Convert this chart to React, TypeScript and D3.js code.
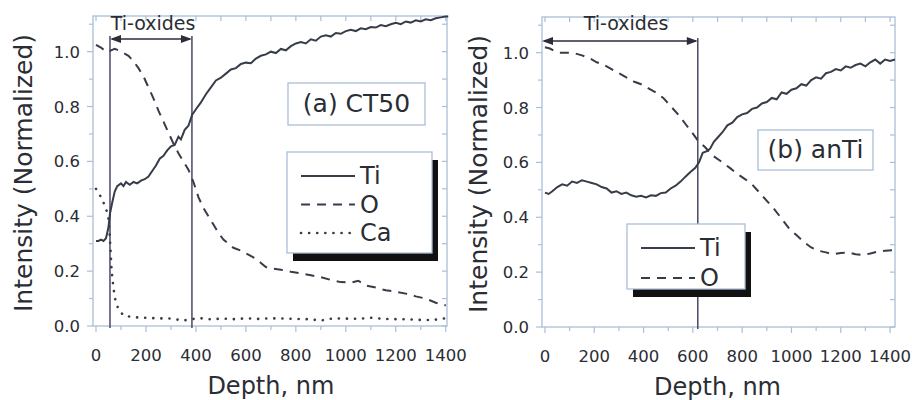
import React from 'react'
import * as d3 from 'd3'

// depth profiles (depth in nm, intensity normalized)
const tiDepthA = [0, 10, 20, 30, 40, 50, 56, 65, 75, 85, 100, 110, 120, 135, 150, 165, 180, 195, 210, 225, 240, 255, 270, 285, 300, 315, 330, 340, 355, 370, 385, 400, 420, 440, 460, 480, 500, 520, 540, 560, 580, 600, 620, 640, 660, 680, 700, 720, 740, 760, 780, 800, 820, 840, 860, 880, 900, 920, 940, 960, 980, 1000, 1020, 1040, 1060, 1080, 1100, 1120, 1140, 1160, 1180, 1200, 1220, 1240, 1260, 1280, 1300, 1320, 1340, 1360, 1380, 1400, 1410]
const tiValA = [0.31, 0.31, 0.315, 0.31, 0.32, 0.36, 0.41, 0.45, 0.49, 0.51, 0.52, 0.51, 0.525, 0.515, 0.525, 0.52, 0.53, 0.535, 0.545, 0.565, 0.585, 0.61, 0.62, 0.64, 0.655, 0.66, 0.69, 0.68, 0.715, 0.73, 0.77, 0.79, 0.815, 0.845, 0.87, 0.895, 0.905, 0.92, 0.935, 0.94, 0.955, 0.96, 0.958, 0.975, 0.985, 0.99, 1.0, 0.995, 1.01, 1.005, 1.02, 1.03, 1.035, 1.03, 1.045, 1.04, 1.055, 1.06, 1.055, 1.068, 1.065, 1.075, 1.08, 1.075, 1.085, 1.082, 1.09, 1.088, 1.097, 1.093, 1.1, 1.105, 1.1, 1.11, 1.106, 1.114, 1.11, 1.118, 1.115, 1.122, 1.125, 1.128, 1.128]

const oDepthA = [0, 20, 40, 50, 60, 75, 90, 110, 130, 150, 170, 190, 210, 230, 250, 270, 290, 310, 330, 350, 370, 390, 410, 430, 450, 470, 490, 510, 530, 550, 580, 610, 640, 660, 680, 700, 740, 780, 820, 860, 900, 940, 980, 1020, 1050, 1080, 1120, 1160, 1200, 1240, 1280, 1320, 1360, 1400]
const oValA = [1.025, 1.015, 1.0, 1.0, 1.005, 1.01, 1.005, 0.995, 0.985, 0.965, 0.94, 0.91, 0.87, 0.83, 0.785, 0.745, 0.705, 0.665, 0.63, 0.6, 0.57, 0.525, 0.47, 0.43, 0.4, 0.37, 0.34, 0.315, 0.3, 0.285, 0.275, 0.26, 0.245, 0.23, 0.215, 0.21, 0.205, 0.198, 0.192, 0.185, 0.178, 0.168, 0.16, 0.158, 0.165, 0.148, 0.14, 0.13, 0.125, 0.118, 0.108, 0.1, 0.085, 0.075]

const caDepthA = [0, 20, 40, 50, 55, 58, 62, 66, 70, 76, 88, 110, 150, 200, 250, 300, 350, 380, 420, 460, 500, 550, 600, 650, 700, 750, 800, 850, 900, 950, 1000, 1050, 1100, 1150, 1200, 1250, 1300, 1350, 1400]
const caValA = [0.5, 0.47, 0.43, 0.39, 0.33, 0.28, 0.21, 0.17, 0.14, 0.1, 0.065, 0.038, 0.032, 0.03, 0.028, 0.027, 0.02, 0.025, 0.028, 0.024, 0.027, 0.025, 0.028, 0.026, 0.028, 0.027, 0.026, 0.025, 0.02, 0.028, 0.027, 0.026, 0.03, 0.026, 0.025, 0.024, 0.022, 0.022, 0.028]

const tiDepthB = [0, 15, 30, 50, 70, 90, 110, 130, 150, 170, 190, 210, 230, 250, 270, 290, 310, 330, 350, 370, 390, 410, 430, 450, 470, 490, 510, 530, 550, 570, 590, 610, 625, 640, 655, 670, 685, 700, 720, 740, 760, 780, 800, 820, 840, 860, 880, 900, 920, 940, 960, 980, 1000, 1020, 1040, 1060, 1080, 1100, 1120, 1140, 1160, 1180, 1200, 1220, 1240, 1260, 1280, 1300, 1320, 1340, 1360, 1380, 1400, 1420]
const tiValB = [0.49, 0.485, 0.495, 0.51, 0.52, 0.515, 0.53, 0.525, 0.535, 0.53, 0.525, 0.52, 0.51, 0.505, 0.49, 0.495, 0.485, 0.49, 0.48, 0.475, 0.478, 0.472, 0.48, 0.478, 0.488, 0.49, 0.505, 0.515, 0.53, 0.548, 0.565, 0.58, 0.6, 0.635, 0.64, 0.65, 0.675, 0.69, 0.71, 0.735, 0.745, 0.765, 0.775, 0.78, 0.795, 0.8, 0.815, 0.82, 0.835, 0.83, 0.855, 0.85, 0.865, 0.87, 0.885, 0.88, 0.9, 0.91, 0.905, 0.925, 0.93, 0.94, 0.935, 0.95, 0.945, 0.955, 0.96, 0.95, 0.965, 0.975, 0.96, 0.975, 0.97, 0.975]

const oDepthB = [0, 20, 40, 60, 90, 120, 150, 180, 210, 240, 270, 300, 330, 360, 390, 420, 450, 480, 510, 540, 570, 600, 620, 650, 680, 720, 750, 780, 810, 840, 870, 900, 930, 960, 990, 1020, 1050, 1080, 1110, 1140, 1170, 1200, 1230, 1260, 1290, 1320, 1350, 1380, 1420]
const oValB = [1.02, 1.015, 1.005, 1.0, 1.0, 0.998, 0.99, 0.98, 0.965, 0.955, 0.94, 0.925, 0.91, 0.895, 0.885, 0.87, 0.855, 0.835, 0.805, 0.775, 0.74, 0.705, 0.68, 0.655, 0.625, 0.6, 0.58, 0.558, 0.54, 0.52, 0.49, 0.46, 0.43, 0.395, 0.36, 0.335, 0.31, 0.29, 0.278, 0.272, 0.265, 0.27, 0.272, 0.265, 0.262, 0.268, 0.275, 0.278, 0.28]

const xTicks = [0, 200, 400, 600, 800, 1000, 1200, 1400]
const yTicks = [0.0, 0.2, 0.4, 0.6, 0.8, 1.0]
const oxideEdgesA = [56, 384]
const oxideEdgesB = [620]

const FONT = "'DejaVu Sans', sans-serif"
const INK = '#363c48'
const FRAME = '#a9bfd8'
const TEXT = '#2a2d34'

const zip = (xs: number[], ys: number[]) => xs.map((d, i) => [d, ys[i]] as [number, number])

type Series = { name: string; pts: [number, number][]; style: 'solid' | 'dash' | 'dot' }

const strokeProps = (s: Series) => {
  if (s.style === 'dot') return { strokeWidth: 2.6, strokeDasharray: '0.1,8', strokeLinecap: 'round' as const }
  if (s.style === 'dash') return { strokeWidth: 2, strokeDasharray: '9,7', strokeLinecap: 'butt' as const }
  return { strokeWidth: 2, strokeDasharray: undefined, strokeLinecap: 'butt' as const }
}

function Panel(props: {
  left: number; right: number; top: number; bottom: number
  xDom: [number, number]
  series: Series[]
  edges: number[]
  arrowFrom: number | null
  arrowY: number
  oxLabelX: number
  tag: string; tagBox: [number, number, number, number]
  legBox: [number, number, number, number]
  legRow: number
  titleX: number
}) {
  const { left, right, top, bottom } = props
  const x = d3.scaleLinear().domain(props.xDom).range([left, right])
  const y = d3.scaleLinear().domain([0, 1.13]).range([bottom, top])
  const line = d3.line<[number, number]>().x(d => x(d[0])).y(d => y(d[1]))
  const minorX = d3.range(0, 1401, 100)
  const minorY = d3.range(0, 1.15, 0.1)
  const a0 = props.arrowFrom == null ? left : x(props.arrowFrom)
  const a1 = x(props.edges[props.edges.length - 1])
  const ay = props.arrowY
  const [bx, by, bw, bh] = props.legBox
  const [tx, ty, tw, th] = props.tagBox
  return (
    <g>
      {/* frame and ticks */}
      <rect x={left} y={top} width={right - left} height={bottom - top} fill="none" stroke={FRAME} strokeWidth={1.3} />
      {minorX.map(t => {
        const major = t % 200 === 0
        return (
          <g key={'x' + t}>
            <line x1={x(t)} x2={x(t)} y1={bottom} y2={bottom + (major ? 6 : 4)} stroke={FRAME} strokeWidth={1.2} />
            <line x1={x(t)} x2={x(t)} y1={top} y2={top + 5} stroke={FRAME} strokeWidth={1.2} />
          </g>
        )
      })}
      {minorY.map((t, i) => (
        <g key={'y' + i}>
          <line x1={left} x2={left - (i % 2 === 0 ? 6 : 4)} y1={y(t)} y2={y(t)} stroke={FRAME} strokeWidth={1.2} />
          <line x1={right} x2={right - 5} y1={y(t)} y2={y(t)} stroke={FRAME} strokeWidth={1.2} />
        </g>
      ))}
      {xTicks.map(t => (
        <text key={'xl' + t} x={x(t)} y={bottom + 35} textAnchor="middle" fontSize={16.5} fontFamily={FONT} fill={TEXT}>{t}</text>
      ))}
      {yTicks.map(t => (
        <text key={'yl' + t} x={left - 13} y={y(t) + 6} textAnchor="end" fontSize={16.5} fontFamily={FONT} fill={TEXT}>{d3.format('.1f')(t)}</text>
      ))}
      <text x={(x(0) + x(1400)) / 2} y={bottom + 68} textAnchor="middle" fontSize={24} fontFamily={FONT} fill={TEXT}>Depth, nm</text>
      <text transform={`translate(${props.titleX},${(top + bottom) / 2 + 2}) rotate(-90)`} textAnchor="middle" dominantBaseline="middle" fontSize={25} fontFamily={FONT} fill={TEXT}>Intensity (Normalized)</text>

      {/* Ti-oxide region */}
      {props.edges.map(e => (
        <line key={'e' + e} x1={x(e)} x2={x(e)} y1={ay - 3} y2={bottom + 2} stroke="#4a4868" strokeWidth={1.5} />
      ))}
      <line x1={a0 + 2} x2={a1 - 2} y1={ay} y2={ay} stroke="#2c2c3a" strokeWidth={1.5} />
      <path d={`M${a0},${ay} l11,-4 l0,8 z`} fill="#2c2c3a" />
      <path d={`M${a1},${ay} l-11,-4 l0,8 z`} fill="#2c2c3a" />
      <text x={props.oxLabelX} y={30} textAnchor="middle" fontSize={19} fontFamily={FONT} fill={TEXT}>Ti-oxides</text>

      {/* data */}
      {props.series.map(s => (
        <path key={s.name} d={line(s.pts) ?? ''} fill="none" stroke={INK} {...strokeProps(s)} />
      ))}

      {/* sample tag */}
      <rect x={tx} y={ty} width={tw} height={th} fill="#fff" stroke={FRAME} strokeWidth={1.3} />
      <text x={tx + tw / 2} y={ty + th / 2 + 1} textAnchor="middle" dominantBaseline="middle" fontSize={25} fontFamily={FONT} fill={TEXT}>{props.tag}</text>

      {/* legend */}
      <rect x={bx + 6} y={by + 8} width={bw} height={bh} fill="#111" />
      <rect x={bx} y={by} width={bw} height={bh} fill="#fff" stroke={FRAME} strokeWidth={1.3} />
      {props.series.map((s, i) => {
        const ly = by + 24 + i * props.legRow
        return (
          <g key={'lg' + s.name}>
            <line x1={bx + 14} x2={bx + 68} y1={ly} y2={ly} stroke={INK} {...strokeProps(s)} />
            <text x={bx + 73} y={ly + 1} dominantBaseline="middle" fontSize={24} fontFamily={FONT} fill={TEXT}>{s.name}</text>
          </g>
        )
      })}
    </g>
  )
}

export default function App() {
  const seriesA: Series[] = [
    { name: 'Ti', pts: zip(tiDepthA, tiValA), style: 'solid' },
    { name: 'O', pts: zip(oDepthA, oValA), style: 'dash' },
    { name: 'Ca', pts: zip(caDepthA, caValA), style: 'dot' },
  ]
  const seriesB: Series[] = [
    { name: 'Ti', pts: zip(tiDepthB, tiValB), style: 'solid' },
    { name: 'O', pts: zip(oDepthB, oValB), style: 'dash' },
  ]
  return (
    <svg width={912} height={400} style={{ position: 'absolute', left: 0, top: 0, background: '#fff' }}>
      <Panel left={93} right={447} top={16} bottom={326} xDom={[-12, 1405]}
        series={seriesA} edges={oxideEdgesA} arrowFrom={oxideEdgesA[0]} arrowY={39} oxLabelX={153}
        tag="(a) CT50" tagBox={[288, 83, 137, 42]} legBox={[287, 152, 145, 101]} legRow={28.5} titleX={25} />
      <Panel left={542} right={895} top={17} bottom={327} xDom={[-12, 1420]}
        series={seriesB} edges={oxideEdgesB} arrowFrom={null} arrowY={41} oxLabelX={626}
        tag="(b) anTi" tagBox={[758, 130, 115, 40]} legBox={[627, 224, 118, 65]} legRow={30} titleX={480} />
    </svg>
  )
}
